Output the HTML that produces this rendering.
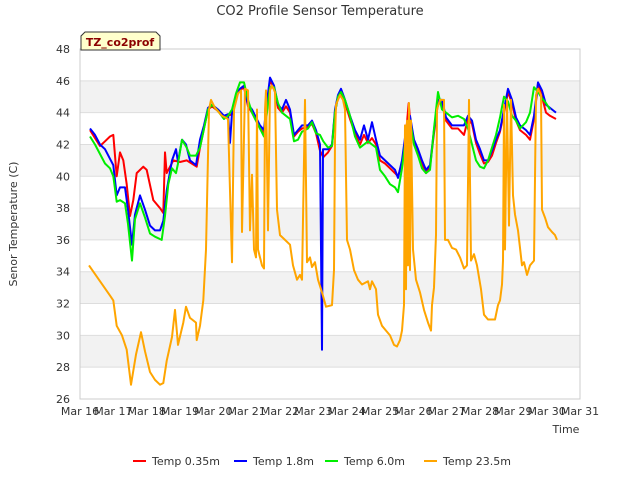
<!DOCTYPE html>
<html><head><meta charset="utf-8"><style>
body{margin:0;background:#fff;font-family:"Liberation Sans","DejaVu Sans",sans-serif;}
svg text{font-family:"DejaVu Sans","Liberation Sans",sans-serif;}
</style></head><body>
<svg id="chart" width="640" height="480" viewBox="0 0 640 480">
<text x="320" y="15" text-anchor="middle" font-size="13" fill="#333">CO2 Profile Sensor Temperature</text>
<g id="bands"></g><g id="grid"></g>
<rect x="80" y="49" width="500" height="350" fill="none" stroke="#ccc"/>
<g id="yticks"></g><g id="xticks"></g><g id="series"></g>
<text transform="translate(17,224) rotate(-90)" text-anchor="middle" font-size="11" fill="#333">Senor Temperature (C)</text>
<text x="566" y="433" text-anchor="middle" font-size="11" fill="#333">Time</text>
<g>
<path d="M81,50 L81,36 L85,32 L156,32 L160,36 L160,50 Z" fill="#ffffcc" stroke="#333"/>
<text x="120" y="46" text-anchor="middle" font-size="11" font-weight="bold" fill="#8b0000">TZ_co2prof</text></g>
<g id="legend"></g>
</svg>
<script>
const yTicks=[26,28,30,32,34,36,38,40,42,44,46,48];
const xLabels=["Mar 16","Mar 17","Mar 18","Mar 19","Mar 20","Mar 21","Mar 22","Mar 23","Mar 24","Mar 25","Mar 26","Mar 27","Mar 28","Mar 29","Mar 30","Mar 31"];
const seriesNames=["Temp 0.35m","Temp 1.8m","Temp 6.0m","Temp 23.5m"];
const seriesColors=["#ff0000","#0000ff","#00ee00","#ffa500"];
const blueDays=[0.3,0.45,0.6,0.75,0.9,1.0,1.1,1.2,1.35,1.44,1.56,1.65,1.8,1.95,2.1,2.25,2.4,2.5,2.6,2.76,2.88,2.94,3.06,3.18,3.3,3.48,3.6,3.72,3.84,3.96,4.14,4.32,4.44,4.5,4.56,4.68,4.8,4.92,5.04,5.16,5.28,5.4,5.52,5.58,5.7,5.82,5.94,6.06,6.18,6.3,6.42,6.54,6.66,6.84,6.96,7.08,7.2,7.26,7.29,7.44,7.56,7.65,7.74,7.83,7.95,8.1,8.25,8.4,8.52,8.64,8.76,8.88,9.0,9.15,9.3,9.45,9.54,9.66,9.78,9.9,10.02,10.14,10.26,10.38,10.5,10.62,10.74,10.86,10.98,11.16,11.34,11.52,11.64,11.76,11.88,12.0,12.12,12.24,12.36,12.48,12.6,12.72,12.84,12.96,13.08,13.2,13.38,13.5,13.62,13.74,13.86,13.98,14.1,14.28];
const blueVals=[43.0,42.6,42.0,41.7,41.1,40.7,38.8,39.3,39.3,37.9,35.7,37.6,38.8,37.9,36.9,36.6,36.6,37.2,39.1,41.0,41.7,40.9,42.3,42.0,41.0,40.7,42.3,43.2,44.3,44.5,44.2,43.8,43.9,42.1,44.0,45.1,45.5,45.7,44.5,44.2,43.7,43.2,42.9,44.2,46.2,45.7,44.5,44.2,44.8,44.2,42.6,42.9,43.2,43.2,43.5,42.9,42.0,29.1,41.7,41.7,42.0,44.2,45.1,45.5,44.8,43.8,42.9,42.3,43.2,42.3,43.4,42.3,41.3,41.0,40.7,40.4,39.9,41.0,42.9,43.8,42.3,41.7,41.0,40.4,40.7,42.9,44.8,44.8,43.7,43.2,43.2,43.2,43.8,43.5,42.3,41.7,41.0,41.0,41.6,42.3,42.9,44.2,45.5,44.8,43.7,43.2,42.9,42.6,43.8,45.9,45.4,44.5,44.3,44.0];
const redDays=[0.3,0.45,0.6,0.75,0.9,1.0,1.1,1.2,1.3,1.4,1.5,1.6,1.7,1.9,2.0,2.2,2.4,2.5,2.55,2.6,2.8,3.0,3.2,3.5,3.6,3.72,3.84,3.96,4.14,4.32,4.44,4.56,4.68,4.8,4.92,5.04,5.16,5.28,5.4,5.52,5.58,5.7,5.82,5.94,6.06,6.18,6.3,6.42,6.54,6.66,6.84,6.96,7.08,7.2,7.3,7.44,7.56,7.65,7.74,7.83,7.95,8.1,8.25,8.4,8.52,8.64,8.76,8.88,9.0,9.15,9.3,9.45,9.54,9.66,9.78,9.86,9.9,10.02,10.14,10.26,10.38,10.5,10.62,10.74,10.86,10.98,11.16,11.34,11.52,11.64,11.76,11.88,12.0,12.12,12.24,12.36,12.48,12.6,12.72,12.84,12.96,13.08,13.2,13.38,13.5,13.62,13.74,13.86,13.98,14.1,14.28];
const redVals=[42.9,42.4,41.9,42.2,42.5,42.6,40.0,41.5,41.0,39.5,37.5,38.5,40.2,40.6,40.4,38.5,38.0,37.7,41.5,40.2,41.0,40.9,41.0,40.6,41.8,43.0,44.2,44.4,44.1,43.7,43.8,43.9,45.0,45.4,45.6,44.4,44.0,43.5,43.0,42.7,44.0,46.0,45.6,44.3,44.0,44.4,44.0,42.5,42.8,43.0,43.1,43.3,42.7,41.6,41.2,41.5,41.9,44.0,45.0,45.3,44.6,43.6,42.7,42.0,42.6,42.1,42.4,42.0,41.0,40.8,40.5,40.2,40.0,40.8,42.7,44.6,43.6,42.0,41.5,40.8,40.2,40.6,42.7,44.6,44.6,43.5,43.0,43.0,42.6,43.6,43.3,42.1,41.4,40.8,40.9,41.3,42.1,42.8,44.0,45.3,44.6,43.5,42.9,42.6,42.3,43.6,45.8,45.0,44.0,43.8,43.6];
const greenDays=[0.3,0.45,0.6,0.75,0.9,1.0,1.1,1.2,1.35,1.44,1.56,1.65,1.8,1.95,2.1,2.25,2.45,2.55,2.65,2.76,2.88,2.94,3.06,3.2,3.3,3.48,3.6,3.72,3.84,3.96,4.14,4.32,4.44,4.56,4.68,4.8,4.92,5.04,5.16,5.28,5.4,5.52,5.58,5.7,5.82,5.94,6.06,6.18,6.3,6.42,6.54,6.66,6.84,6.96,7.08,7.2,7.3,7.44,7.56,7.65,7.74,7.83,7.95,8.1,8.25,8.4,8.52,8.64,8.76,8.88,9.0,9.15,9.3,9.45,9.54,9.66,9.78,9.9,10.02,10.14,10.26,10.38,10.5,10.62,10.74,10.86,10.98,11.16,11.34,11.52,11.64,11.76,11.88,12.0,12.12,12.24,12.36,12.48,12.6,12.72,12.84,12.96,13.08,13.2,13.38,13.5,13.62,13.74,13.86,13.98,14.1,14.28];
const greenVals=[42.5,42.0,41.4,40.8,40.5,40.0,38.4,38.5,38.3,37.0,34.7,37.3,38.3,37.4,36.4,36.2,36.0,37.5,39.5,40.5,40.2,40.8,42.3,41.8,41.3,41.3,41.8,43.0,44.2,44.5,44.1,43.6,43.8,44.2,45.2,45.9,45.9,44.8,44.0,43.5,43.0,42.5,43.5,45.6,45.6,44.6,44.0,43.8,43.6,42.2,42.3,42.8,43.0,43.4,42.7,42.6,42.2,41.8,41.9,44.0,45.0,45.3,44.8,43.8,42.5,41.8,42.0,42.2,42.0,41.8,40.4,40.0,39.5,39.3,39.0,40.5,42.5,43.5,42.0,41.3,40.5,40.2,40.4,43.0,45.3,44.2,44.0,43.7,43.8,43.6,43.0,42.0,41.0,40.6,40.5,41.0,41.8,42.6,43.7,45.0,44.7,43.8,43.5,43.0,43.4,44.0,45.6,45.3,44.9,44.6,44.2];
const orangeDays=[0.27,0.9,1.0,1.1,1.26,1.4,1.53,1.68,1.83,1.95,2.1,2.25,2.4,2.5,2.6,2.76,2.85,2.94,3.1,3.18,3.3,3.48,3.5,3.6,3.7,3.78,3.87,3.93,4.05,4.26,4.44,4.56,4.62,4.74,4.83,4.86,4.95,5.04,5.1,5.16,5.22,5.28,5.31,5.34,5.46,5.52,5.55,5.58,5.64,5.7,5.76,5.85,5.91,6.0,6.15,6.3,6.39,6.51,6.6,6.66,6.75,6.81,6.9,6.96,7.05,7.14,7.26,7.38,7.56,7.62,7.65,7.68,7.8,7.89,7.95,8.01,8.1,8.22,8.34,8.46,8.64,8.7,8.76,8.88,8.94,9.06,9.18,9.3,9.42,9.51,9.6,9.66,9.72,9.75,9.78,9.81,9.84,9.87,9.9,9.93,9.99,10.08,10.2,10.32,10.44,10.53,10.56,10.62,10.68,10.71,10.8,10.92,10.95,11.04,11.16,11.28,11.4,11.52,11.61,11.67,11.73,11.82,11.91,12.03,12.12,12.24,12.36,12.45,12.54,12.6,12.66,12.69,12.72,12.75,12.81,12.87,12.93,12.99,13.05,13.14,13.2,13.26,13.32,13.41,13.5,13.62,13.68,13.74,13.83,13.86,13.95,14.04,14.16,14.25,14.31];
const orangeVals=[34.4,32.5,32.2,30.6,30.0,29.1,26.9,28.8,30.2,29.0,27.7,27.2,26.9,27.0,28.4,29.9,31.6,29.4,30.8,31.8,31.1,30.8,29.7,30.6,32.2,35.4,44.2,44.8,44.3,43.8,43.6,34.6,44.2,45.2,45.4,36.5,45.5,45.4,36.6,40.1,35.4,34.9,44.2,35.4,34.4,34.2,44.2,45.4,36.6,45.4,45.7,45.3,37.9,36.3,36.0,35.7,34.4,33.5,33.8,33.5,44.8,34.6,34.9,34.3,34.6,33.5,32.7,31.8,31.9,34.1,42.3,44.5,45.1,44.8,44.2,36.0,35.4,34.1,33.5,33.2,33.4,32.9,33.4,32.9,31.3,30.6,30.3,30.0,29.4,29.3,29.7,30.3,31.9,43.2,32.9,43.5,34.4,44.6,34.1,43.5,35.4,33.5,32.7,31.6,30.8,30.3,31.9,33.0,36.3,44.2,44.8,44.8,36.0,36.0,35.5,35.4,34.9,34.2,34.4,44.8,34.7,35.1,34.4,32.9,31.3,31.0,31.0,31.0,31.9,32.2,33.2,34.7,44.5,35.4,44.8,36.9,44.8,38.8,37.6,36.6,35.5,34.4,34.6,33.8,34.4,34.7,45.1,45.5,45.1,37.9,37.4,36.8,36.5,36.3,36.0];
const NS="http://www.w3.org/2000/svg";
const X0=80,X1=580,Y0=399,Y1=49,DMAX=15,VMIN=26,VMAX=48;
function xs(d){return X0+(X1-X0)*d/DMAX;}
function ys(v){return Y0-(Y0-Y1)*(v-VMIN)/(VMAX-VMIN);}
function mk(tag,attrs,parent){const e=document.createElementNS(NS,tag);for(const k in attrs)e.setAttribute(k,attrs[k]);parent.appendChild(e);return e;}
const bands=document.getElementById('bands'),grid=document.getElementById('grid'),yt=document.getElementById('yticks'),xt=document.getElementById('xticks');
for(let i=0;i<yTicks.length-1;i++){
  if((yTicks.length-2-i)%2===1){const r=mk('rect',{x:X0,y:ys(yTicks[i+1]),width:X1-X0,height:ys(yTicks[i])-ys(yTicks[i+1]),fill:'#f2f2f2'},bands);
  
  }
}
yTicks.forEach(v=>{
  const l=mk('line',{x1:X0,x2:X1,y1:ys(v),y2:ys(v),stroke:'#ddd'},grid);
  
  
  const t=mk('text',{x:X0-10,y:ys(v)+4,'text-anchor':'end','font-size':11,fill:'#333'},yt);t.textContent=v;
  
  
});
xLabels.forEach((s,i)=>{
  const t=mk('text',{x:xs(i),y:415,'text-anchor':'middle','font-size':11,fill:'#333'},xt);t.textContent=s;
  
  
});
const sg=document.getElementById('series');
const allD=[redDays,blueDays,greenDays,orangeDays],allV=[redVals,blueVals,greenVals,orangeVals];
[3,0,1,2].forEach(k=>{});
[0,1,2,3].forEach(k=>{
  const pts=allD[k].map((d,i)=>xs(d).toFixed(1)+','+ys(allV[k][i]).toFixed(1)).join(' ');
  const p=mk('polyline',{points:pts,fill:'none',stroke:seriesColors[k],'stroke-width':2,'stroke-linejoin':'round'},sg);
  
  
});
const lg=document.getElementById('legend');const lx=[133,234,325,424];
seriesNames.forEach((n,k)=>{
  const g=mk('g',{},lg);
  
  
  mk('line',{x1:lx[k],x2:lx[k]+13,y1:461,y2:461,stroke:seriesColors[k],'stroke-width':2},g);
  const t=mk('text',{x:lx[k]+19,y:465,'font-size':11,fill:'#333'},g);t.textContent=n;
});
</script>
</body></html>
